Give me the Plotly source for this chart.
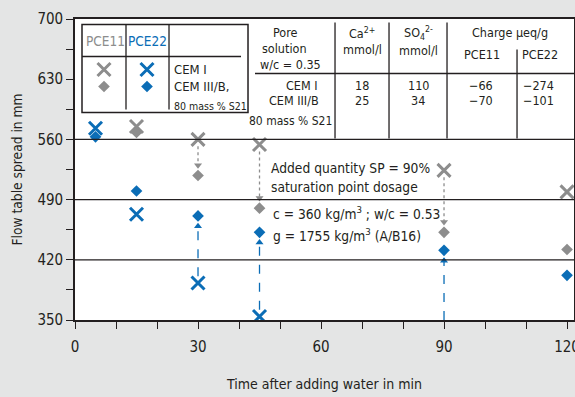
import plotly.graph_objects as go

# ---------------- data ----------------
times = [5, 15, 30, 45, 90, 120]
pce11_cem1 = [None, 575, 560, 554, 524, 499]
pce11_cem3 = [None, 568, 518, 480, 452, 432]
pce22_cem1 = [573, 473, 393, 354, None, None]
pce22_cem3 = [563, 500, 471, 452, 431, 402]
arrow_times = [30, 45, 90]

x_ticks = [0, 10, 20, 30, 40, 50, 60, 70, 80, 90, 100, 110, 120]
x_labels = ["0", "", "", "30", "", "", "60", "", "", "90", "", "", "120"]
y_ticks = [350, 385, 420, 455, 490, 525, 560, 595, 630, 665, 700]
y_labels = ["350", "", "420", "", "490", "", "560", "", "630", "", "700"]
grid_vals = [420, 490, 560]

table_cols = ["Ca<sup>2+</sup>", "SO<sub>4</sub><sup>2-</sup>"]
ca_vals = ["18", "25"]
so4_vals = ["110", "34"]
charge_pce11 = ["\u221266", "\u221270"]
charge_pce22 = ["\u2212274", "\u2212101"]

GRAY = "#8d8d8d"
BLUE = "#0b6db6"
TXT = "#231f20"
BG = "#e4e5e5"
FONT = "DejaVu Sans Condensed, DejaVu Sans, sans-serif"

# pixel helpers (layout only)
def xd(px):
    return (px - 75) / 4.1

def yd(py):
    return 350 + (320.5 - py) / 0.86

fig = go.Figure()

# arrows
for t in arrow_times:
    i = times.index(t)
    y0 = pce11_cem1[i] - 8
    y1 = pce11_cem3[i] + 9
    fig.add_trace(go.Scatter(x=[t, t], y=[y0, y1], mode="lines",
                             line=dict(color=GRAY, width=1.3, dash="dot"),
                             showlegend=False, hoverinfo="skip"))
    fig.add_trace(go.Scatter(x=[t], y=[y1 + 3], mode="markers",
                             marker=dict(symbol="triangle-down", size=7, color=GRAY),
                             showlegend=False, hoverinfo="skip"))
    start = pce22_cem1[i] + 8 if pce22_cem1[i] is not None else 350
    end = pce22_cem3[i] - 9
    fig.add_trace(go.Scatter(x=[t, t], y=[start, end], mode="lines",
                             line=dict(color=BLUE, width=1.3, dash="dash"),
                             showlegend=False, hoverinfo="skip"))
    fig.add_trace(go.Scatter(x=[t], y=[end - 3], mode="markers",
                             marker=dict(symbol="triangle-up", size=7, color=BLUE),
                             showlegend=False, hoverinfo="skip"))

def xm(c):
    return dict(symbol="x-thin", size=13, color=c, line=dict(width=3, color=c))

def dm(c):
    return dict(symbol="diamond", size=9, color=c, line=dict(width=0))

fig.add_trace(go.Scatter(x=times, y=pce11_cem1, mode="markers", name="PCE11 CEM I",
                         marker=xm(GRAY), showlegend=False))
fig.add_trace(go.Scatter(x=times, y=pce11_cem3, mode="markers", name="PCE11 CEM III/B",
                         marker=dm(GRAY), showlegend=False))
fig.add_trace(go.Scatter(x=times, y=pce22_cem1, mode="markers", name="PCE22 CEM I",
                         marker=xm(BLUE), showlegend=False))
fig.add_trace(go.Scatter(x=times, y=pce22_cem3, mode="markers", name="PCE22 CEM III/B",
                         marker=dm(BLUE), showlegend=False))

# legend-box keys
for px, c in [(104, GRAY), (147, BLUE)]:
    fig.add_trace(go.Scatter(x=[xd(px)], y=[yd(70)], mode="markers", marker=xm(c),
                             showlegend=False, hoverinfo="skip"))
    fig.add_trace(go.Scatter(x=[xd(px)], y=[yd(87)], mode="markers", marker=dm(c),
                             showlegend=False, hoverinfo="skip"))

shapes = []
def hline(x0, x1, py, w=1.3):
    shapes.append(dict(type="line", xref="x", yref="y", x0=xd(x0), x1=xd(x1),
                       y0=yd(py), y1=yd(py), line=dict(color=TXT, width=w)))
def vline(px, y0, y1, w=1.3):
    shapes.append(dict(type="line", xref="x", yref="y", x0=xd(px), x1=xd(px),
                       y0=yd(y0), y1=yd(y1), line=dict(color=TXT, width=w)))

for g in grid_vals:
    shapes.append(dict(type="line", xref="paper", yref="y", x0=0, x1=1, y0=g, y1=g,
                       line=dict(color=TXT, width=1.3)))

# legend box
shapes.append(dict(type="rect", xref="x", yref="y", x0=xd(82), x1=xd(248),
                   y0=yd(113), y1=yd(25), line=dict(color=TXT, width=1.5)))
hline(82, 241, 57)
vline(126, 25, 110)
vline(169, 25, 110)

# right table
hline(255, 574, 74)
vline(335, 23, 139)
vline(389, 23, 139)
vline(447, 23, 139)
vline(517, 50, 139)

annotations = []
def txt(s, px, py, size=12.5, color=TXT, anchor="center"):
    annotations.append(dict(text=s, x=xd(px), y=yd(py), xref="x", yref="y",
                            showarrow=False, xanchor=anchor, yanchor="middle",
                            font=dict(size=size, color=color, family=FONT)))

# legend box text
txt("PCE11", 105, 41, 13.5, GRAY)
txt("PCE22", 147, 41, 13.5, BLUE)
txt("CEM I", 172, 70, 13, anchor="left")
txt("CEM III/B,", 172, 87, 13, anchor="left")
txt("80 mass % S21", 172, 106, 10.5, anchor="left")

# table header
txt("Pore", 285, 33)
txt("solution", 284, 49)
txt("w/c = 0.35", 290, 65)
txt(table_cols[0], 362, 33)
txt("mmol/l", 362, 50)
txt(table_cols[1], 418, 33)
txt("mmol/l", 418, 51)
txt("Charge \u00b5eq/g", 510, 33)
txt("PCE11", 482, 55)
txt("PCE22", 540, 55)
# table rows
txt("CEM I", 320, 86, anchor="right")
txt("CEM III/B", 321, 101, anchor="right")
txt("80 mass % S21", 334, 121, 12, anchor="right")
for k, py in enumerate([86, 101]):
    txt(ca_vals[k], 362, py)
    txt(so4_vals[k], 418, py)
    txt(charge_pce11[k], 481, py)
    txt(charge_pce22[k], 538, py)

# in-plot notes
txt("Added quantity SP = 90%", 269, 168, 13.7, anchor="left")
txt("saturation point dosage", 269, 187, 13.7, anchor="left")
txt("c = 360 kg/m<sup>3</sup> ; w/c = 0.53", 271, 213, 13.7, anchor="left")
txt("g = 1755 kg/m<sup>3</sup> (A/B16)", 271, 235, 13.7, anchor="left")

fig.update_layout(
    width=575, height=397,
    margin=dict(l=75, r=1, t=19, b=77),
    paper_bgcolor=BG, plot_bgcolor="white",
    font=dict(family=FONT, color=TXT, size=15),
    shapes=shapes, annotations=annotations,
    showlegend=False,
    xaxis=dict(range=[0, 121.7], tickvals=x_ticks, ticktext=x_labels,
               ticks="outside", ticklen=7, tickwidth=1.3, tickcolor=TXT,
               showline=True, linecolor=TXT, linewidth=1.6, mirror=True,
               showgrid=False, zeroline=False, automargin=False,
               ticklabelstandoff=5, ticklabeloverflow="allow",
               tickfont=dict(size=15, family=FONT),
               title=dict(text="Time after adding water in min", font=dict(size=14, family=FONT),
                          standoff=24)),
    yaxis=dict(range=[350, 700], tickvals=y_ticks, ticktext=y_labels,
               ticks="outside", ticklen=7, tickwidth=1.3, tickcolor=TXT,
               showline=True, linecolor=TXT, linewidth=1.6, mirror=True,
               showgrid=False, zeroline=False, automargin=False,
               tickfont=dict(size=15, family=FONT),
               title=dict(text="Flow table spread in mm", font=dict(size=13.7, family=FONT),
                          standoff=12)),
)

fig.write_html("out.html", config={"displayModeBar": False},
               post_script="document.body.style.margin='0px';document.body.style.overflow='hidden';")
